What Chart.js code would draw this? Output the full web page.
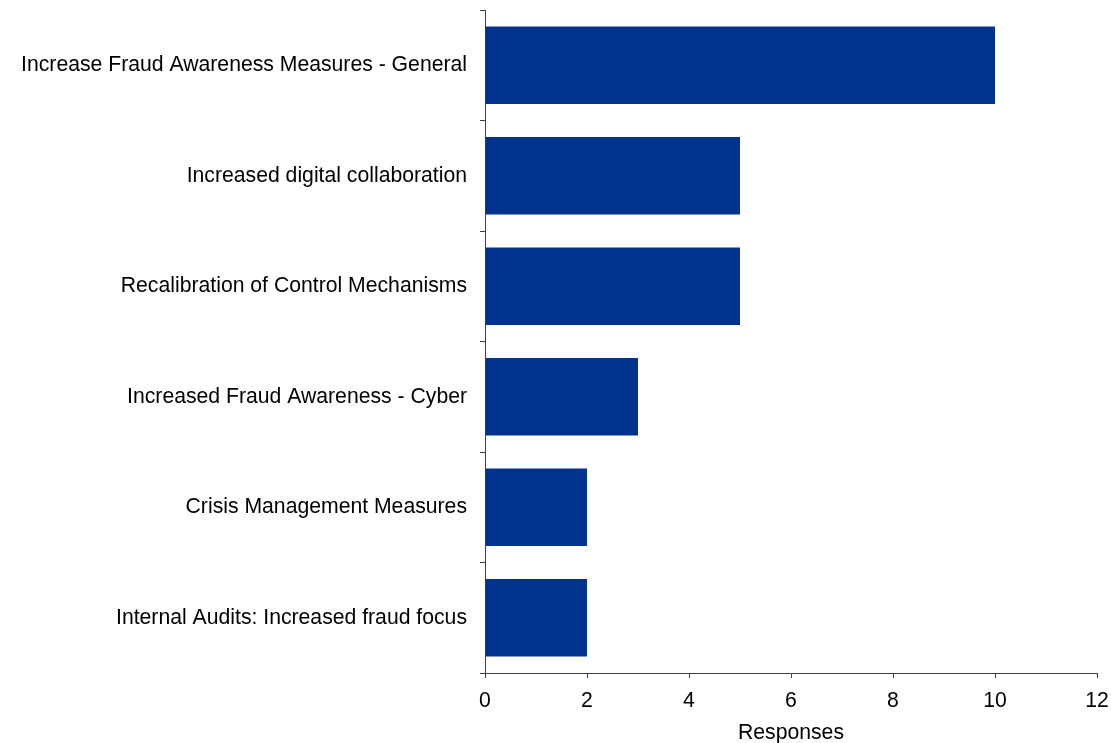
<!DOCTYPE html>
<html>
<head>
<meta charset="utf-8">
<script src="https://cdn.jsdelivr.net/npm/chart.js@4/dist/chart.umd.min.js"></script>
<style>
  html, body { margin: 0; padding: 0; background: #fff; }
  #wrap { width: 1111px; height: 743px; }
</style>
</head>
<body>
<div id="wrap"><canvas id="chart" width="1111" height="743"></canvas></div>
<script>
const measures = [
  "Increase Fraud Awareness Measures - General",
  "Increased digital collaboration",
  "Recalibration of Control Mechanisms",
  "Increased Fraud Awareness - Cyber",
  "Crisis Management Measures",
  "Internal Audits: Increased fraud focus"
];
const responses = [10, 5, 5, 3, 2, 2];

const axisColor = "#404040";
const textColor = "#000000";
const font = { family: "'Liberation Sans', Arial, sans-serif", size: 21.2 };

new Chart(document.getElementById("chart"), {
  type: "bar",
  data: {
    labels: measures,
    datasets: [{
      label: "Responses",
      data: responses,
      backgroundColor: "#00338D",
      borderWidth: 0,
      categoryPercentage: 1,
      barPercentage: 0.7
    }]
  },
  options: {
    indexAxis: "y",
    responsive: false,
    animation: false,
    layout: { padding: { top: 10, right: 14, left: 0, bottom: 0 } },
    plugins: { legend: { display: false }, tooltip: { enabled: false } },
    scales: {
      x: {
        min: 0,
        max: 12,
        ticks: { stepSize: 2, color: textColor, font: font, padding: 10 },
        grid: { drawOnChartArea: false, drawTicks: true, tickLength: 5, color: axisColor },
        border: { color: axisColor, width: 1 },
        title: { display: true, text: "Responses", color: textColor, font: font, padding: { top: 4, bottom: -3 } },
        afterFit: s => {
          s.height = 70;
          s.paddingLeft = 0;
          s.paddingRight = 0;
        }
      },
      y: {
        ticks: { color: textColor, font: font, padding: 13 },
        grid: { drawOnChartArea: false, drawTicks: true, tickLength: 5, color: axisColor, offset: true },
        border: { color: axisColor, width: 1 },
        afterFit: s => {
          s.width = 485;
          s.paddingTop = 0;
          s.paddingBottom = 0;
        }
      }
    }
  }
});
</script>
</body>
</html>
